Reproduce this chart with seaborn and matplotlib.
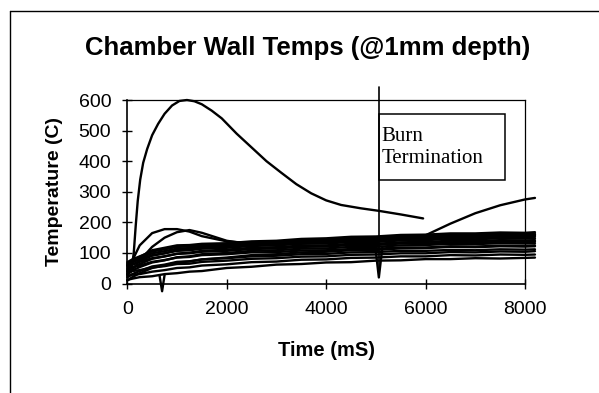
import numpy as np
import pandas as pd
import matplotlib
matplotlib.use('Agg')
import matplotlib.pyplot as plt
import seaborn as sns
from matplotlib.patches import Rectangle
from matplotlib.lines import Line2D

# common time base (mS) for the thermocouple bundle
time_ms = [0, 100, 250, 500, 750, 1000, 1250, 1500, 2000, 2500, 3000, 3500,
           4000, 4500, 5000, 5500, 6000, 6500, 7000, 7500, 8000, 8200]

# wall temperatures (C), one list per sensor
tc01 = [12, 16, 21, 24, 31, 34, 39, 41, 51, 55, 62, 64, 69, 70, 75, 76, 80, 80, 83, 82, 84, 85]
tc02 = [25, 29, 31, 39, 44, 51, 53, 59, 63, 70, 72, 78, 79, 84, 85, 89, 89, 93, 92, 95, 94, 95]
tc03 = [35, 41, 44, 53, 57, 64, 65, 71, 75, 81, 83, 88, 89, 94, 95, 99, 99, 103, 102, 105, 104, 106]
tc04 = [20, 31, 41, 56, 62, 71, 73, 79, 83, 89, 91, 96, 97, 102, 103, 107, 107, 110, 109, 112, 111, 112]
tc05 = [45, 53, 59, 71, 77, 85, 87, 93, 96, 102, 103, 108, 109, 113, 114, 118, 118, 122, 121, 124, 123, 125]
tc06 = [30, 43, 54, 69, 76, 86, 89, 96, 100, 107, 109, 114, 115, 120, 120, 125, 126, 130, 129, 132, 131, 132]
tc07 = [55, 63, 71, 83, 89, 97, 99, 104, 107, 113, 115, 120, 121, 126, 126, 131, 131, 135, 134, 137, 136, 137]
tc08 = [40, 51, 64, 81, 89, 98, 101, 107, 111, 117, 119, 124, 125, 130, 130, 135, 136, 140, 139, 142, 141, 142]
tc09 = [60, 69, 79, 93, 99, 107, 109, 114, 117, 123, 125, 130, 131, 136, 136, 141, 142, 146, 145, 148, 147, 148]
tc10 = [50, 61, 74, 91, 99, 109, 111, 117, 120, 126, 128, 134, 135, 140, 141, 146, 147, 151, 150, 153, 152, 153]
tc11 = [65, 73, 84, 99, 106, 114, 116, 121, 124, 130, 132, 138, 139, 144, 145, 150, 151, 155, 154, 157, 156, 157]
tc12 = [70, 79, 89, 105, 112, 120, 121, 126, 128, 134, 136, 142, 144, 149, 150, 155, 156, 160, 159, 162, 161, 162]
tc13 = [60, 71, 87, 109, 117, 125, 126, 130, 132, 138, 140, 146, 148, 153, 154, 159, 160, 164, 164, 167, 166, 168]
tc14 = [10, 21, 34, 51, 59, 69, 72, 79, 85, 93, 96, 102, 104, 109, 110, 115, 116, 120, 119, 122, 121, 122]
tc15 = [40, 75, 125, 165, 178, 178, 170, 155, 138, 132, 136, 140, 144, 147, 150, 153, 156, 158, 159, 160, 161, 161]
tc16 = [30, 45, 75, 120, 150, 168, 175, 166, 140, 128, 132, 136, 140, 143, 146, 149, 158, 196, 230, 256, 275, 280]

# hottest sensor, recorded to ~6 s only
hot_t = [0, 80, 130, 170, 210, 260, 320, 400, 500, 620, 750, 900, 1050, 1200, 1350,
         1500, 1700, 1900, 2200, 2500, 2800, 3100, 3400, 3700, 4000, 4300, 4700,
         5050, 5500, 5950]
hot_v = [30, 40, 100, 190, 270, 340, 395, 440, 485, 522, 555, 582, 597, 600, 596,
         586, 565, 540, 490, 445, 400, 362, 325, 295, 272, 257, 246,
         238, 226, 213]

# data glitches
glitch1_t = [650, 700, 750]
glitch1_v = [25, -25, 28]
glitch2_t = [4990, 5060, 5130]
glitch2_v = [118, 20, 118]

burn_ms = 5060

sensors = [tc01, tc02, tc03, tc04, tc05, tc06, tc07, tc08, tc09, tc10,
           tc11, tc12, tc13, tc14, tc15, tc16]
frames = []
for i, vals in enumerate(sensors):
    frames.append(pd.DataFrame({'time': time_ms, 'temp': vals, 'tc': 'tc%02d' % (i + 1)}))
frames.append(pd.DataFrame({'time': hot_t, 'temp': hot_v, 'tc': 'hot'}))
frames.append(pd.DataFrame({'time': glitch1_t, 'temp': glitch1_v, 'tc': 'g1'}))
frames.append(pd.DataFrame({'time': glitch2_t, 'temp': glitch2_v, 'tc': 'g2'}))
df = pd.concat(frames, ignore_index=True)

sns.set_style('white')
plt.rcParams['font.family'] = ['Liberation Sans', 'DejaVu Sans']
plt.rcParams['text.color'] = 'black'
plt.rcParams['axes.labelcolor'] = 'black'
plt.rcParams['xtick.color'] = 'black'
plt.rcParams['ytick.color'] = 'black'

fig = plt.figure(figsize=(5.99, 3.93), dpi=100)
ax = fig.add_axes([0.2125, 0.2784, 0.664, 0.4671])

sns.lineplot(data=df, x='time', y='temp', units='tc', estimator=None,
             color='black', linewidth=1.7, sort=False, ax=ax, legend=False)
for ln in ax.lines:
    ln.set_clip_on(False)

ax.set_xlim(0, 8000)
ax.set_ylim(0, 600)
ax.set_xticks([0, 2000, 4000, 6000, 8000])
ax.set_yticks([0, 100, 200, 300, 400, 500, 600])
ax.tick_params(axis='both', direction='inout', length=7, width=1, color='black',
               labelcolor='black', labelsize=14, bottom=True, left=True)
ax.tick_params(axis='y', pad=8)
ax.tick_params(axis='x', pad=9)
for side in ['left', 'bottom']:
    ax.spines[side].set_color('black')
    ax.spines[side].set_linewidth(1.2)
for side in ['top', 'right']:
    ax.spines[side].set_color('black')
    ax.spines[side].set_linewidth(0.9)

ax.set_xlabel('Time (mS)', fontsize=14.5, fontweight='bold', va='center')
ax.set_ylabel('Temperature (C)', fontsize=14, fontweight='bold', va='center')
ax.xaxis.set_label_coords(0.502, -0.367)
ax.yaxis.set_label_coords(-0.183, 0.504)

# burn termination marker
ax.plot([burn_ms, burn_ms], [20, 642], color='black', linewidth=1.2, clip_on=False)
ax.add_patch(Rectangle((burn_ms, 339), 7596 - burn_ms, 555 - 339, fill=False,
                       edgecolor='black', linewidth=1.1))
ax.text(burn_ms + 60, 512, 'Burn\nTermination', family=['Liberation Serif', 'DejaVu Serif'],
        fontsize=15, va='top', ha='left', linespacing=1.2)

fig.text(308 / 599, 1 - 48 / 393, 'Chamber Wall Temps (@1mm depth)', ha='center',
         va='center', fontsize=18.5, fontweight='bold')

# scanned page frame
fig.add_artist(Line2D([10 / 599, 10 / 599], [0, 1 - 11 / 393], color='black', linewidth=1))
fig.add_artist(Line2D([10 / 599, 1], [1 - 11 / 393, 1 - 11 / 393], color='black', linewidth=1))

fig.savefig('out.png', dpi=100)
